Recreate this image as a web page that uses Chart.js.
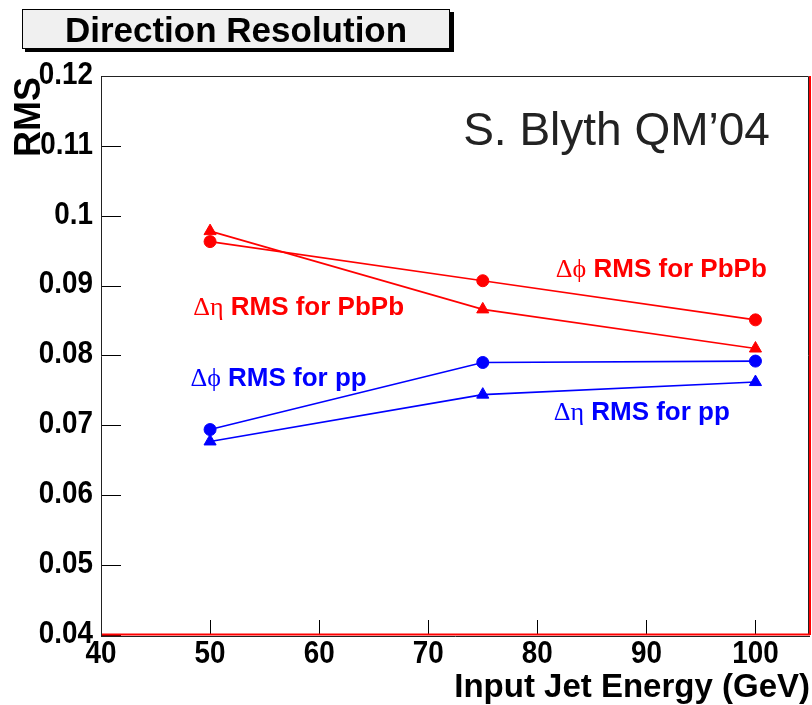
<!DOCTYPE html>
<html>
<head>
<meta charset="utf-8">
<title>Direction Resolution</title>
<script src="https://cdn.jsdelivr.net/npm/chart.js@4/dist/chart.umd.min.js"></script>
<style>
  html, body { margin: 0; padding: 0; background: #fff; }
  canvas { display: block; }
</style>
</head>
<body>
<canvas id="resChart" width="812" height="705"></canvas>
<script>
// ---------------------------------------- data ----------------------------------------
const energies = [50, 75, 100];               // input jet energy (GeV)
const dphiPbPb = [0.0963, 0.0907, 0.0851];
const detaPbPb = [0.0978, 0.0866, 0.0810];
const dphiPP = [0.0694, 0.0790, 0.0792];
const detaPP = [0.0677, 0.0744, 0.0762];

const xTicks = [40, 50, 60, 70, 80, 90, 100];
const yTicks = [0.04, 0.05, 0.06, 0.07, 0.08, 0.09, 0.1, 0.11, 0.12];

const RED = '#ff0000';
const BLUE = '#0000ff';
const SANS = '"Liberation Sans", Arial, Helvetica, sans-serif';
const SERIF = '"Liberation Serif", "DejaVu Serif", serif';

// text labels next to the curves, anchored in data coordinates
const curveLabels = [
    { greek: '\u0394\u03d5', text: ' RMS for PbPb', x: 81.7, y: 0.0912, color: RED },
    { greek: '\u0394\u03b7', text: ' RMS for PbPb', x: 48.45, y: 0.0858, color: RED },
    { greek: '\u0394\u03d5', text: ' RMS for pp', x: 48.2, y: 0.0756, color: BLUE },
    { greek: '\u0394\u03b7', text: ' RMS for pp', x: 81.5, y: 0.0708, color: BLUE }
];

function series(values) {
    return energies.map((e, i) => ({ x: e, y: values[i] }));
}

function makeSet(label, values, color, style) {
    return {
        label: label,
        data: series(values),
        borderColor: color,
        backgroundColor: color,
        borderWidth: 1.6,
        pointStyle: style,
        pointRadius: style === 'triangle' ? 7 : 6,
        pointBorderWidth: 1,
        tension: 0
    };
}

// condensed bold text for the axis numbers
function squeezedText(ctx, str, x, y, align, baseline) {
    const sx = 0.87;
    ctx.save();
    ctx.translate(x, y);
    ctx.scale(sx, 1);
    ctx.font = 'bold 32px ' + SANS;
    ctx.textAlign = align;
    ctx.textBaseline = baseline;
    ctx.fillText(str, 0, 0);
    ctx.restore();
}

// ------------------------------ frame, ticks and texts --------------------------------
const rootStyle = {
    id: 'rootStyle',
    afterDatasetsDraw(chart) {
        const ctx = chart.ctx;
        const a = chart.chartArea;
        const xs = chart.scales.x;
        const ys = chart.scales.y;
        ctx.save();

        // tick marks pointing into the frame
        ctx.strokeStyle = '#000';
        ctx.lineWidth = 1;
        ctx.beginPath();
        yTicks.forEach(v => {
            const py = Math.round(ys.getPixelForValue(v)) + 0.5;
            ctx.moveTo(a.left, py);
            ctx.lineTo(a.left + 20, py);
        });
        xTicks.forEach(v => {
            const px = Math.round(xs.getPixelForValue(v)) + 0.5;
            ctx.moveTo(px, a.bottom);
            ctx.lineTo(px, a.bottom - 15);
        });
        ctx.stroke();

        // tick labels
        ctx.fillStyle = '#000';
        yTicks.forEach(v => {
            squeezedText(ctx, String(+v.toFixed(2)), a.left - 8, ys.getPixelForValue(v) - 1, 'right', 'middle');
        });
        xTicks.forEach(v => {
            squeezedText(ctx, String(v), xs.getPixelForValue(v), a.bottom + 28, 'center', 'alphabetic');
        });

        // frame: dark top/left, red bottom/right
        ctx.strokeStyle = '#222';
        ctx.beginPath();
        ctx.moveTo(a.left + 0.5, a.bottom + 1);
        ctx.lineTo(a.left + 0.5, a.top + 0.5);
        ctx.lineTo(a.right - 1.5, a.top + 0.5);
        ctx.lineTo(a.right - 1.5, a.bottom);
        ctx.moveTo(a.left, a.bottom + 1.5);
        ctx.lineTo(a.right, a.bottom + 1.5);
        ctx.stroke();
        ctx.strokeStyle = RED;
        ctx.lineWidth = 2;
        ctx.beginPath();
        ctx.moveTo(a.left + 1, a.bottom - 0.5);
        ctx.lineTo(a.right, a.bottom - 0.5);
        ctx.moveTo(a.right, a.bottom);
        ctx.lineTo(a.right, a.top);
        ctx.stroke();

        // curve labels: greek part in serif, rest in bold sans
        ctx.textBaseline = 'alphabetic';
        ctx.textAlign = 'left';
        curveLabels.forEach(l => {
            const px = xs.getPixelForValue(l.x);
            const py = ys.getPixelForValue(l.y);
            ctx.fillStyle = l.color;
            ctx.font = '26px ' + SERIF;
            ctx.fillText(l.greek, px, py);
            const w = ctx.measureText(l.greek).width;
            ctx.font = 'bold 26px ' + SANS;
            ctx.fillText(l.text, px + w, py);
        });

        // conference tag
        ctx.fillStyle = '#222';
        ctx.font = '46px ' + SANS;
        ctx.fillText('S. Blyth QM\u201904', xs.getPixelForValue(73.2), ys.getPixelForValue(0.1101));

        ctx.restore();
    },
    afterDraw(chart) {
        const ctx = chart.ctx;
        ctx.save();

        // title box with drop shadow
        ctx.fillStyle = '#000';
        ctx.fillRect(25, 12, 429, 40);
        ctx.fillStyle = '#f0f0f0';
        ctx.fillRect(22, 9, 428, 40);
        ctx.strokeStyle = '#000';
        ctx.lineWidth = 1;
        ctx.strokeRect(22.5, 9.5, 427, 39);
        ctx.fillStyle = '#000';
        ctx.font = 'bold 35px ' + SANS;
        ctx.textAlign = 'center';
        ctx.textBaseline = 'alphabetic';
        ctx.fillText('Direction Resolution', 236, 42);

        // axis titles
        ctx.font = 'bold 33px ' + SANS;
        ctx.textAlign = 'right';
        ctx.fillText('Input Jet Energy (GeV)', 810, 697);

        ctx.translate(40, 77);
        ctx.rotate(-Math.PI / 2);
        ctx.font = 'bold 36px ' + SANS;
        ctx.fillText('RMS', 0, 0);

        ctx.restore();
    }
};

// ----------------------------------------- chart -----------------------------------------
new Chart(document.getElementById('resChart'), {
    type: 'line',
    data: {
        datasets: [
            makeSet('dphi PbPb', dphiPbPb, RED, 'circle'),
            makeSet('deta PbPb', detaPbPb, RED, 'triangle'),
            makeSet('dphi pp', dphiPP, BLUE, 'circle'),
            makeSet('deta pp', detaPP, BLUE, 'triangle')
        ]
    },
    options: {
        responsive: false,
        animation: false,
        layout: {
            autoPadding: false,
            padding: { top: 76, right: 2, left: 0, bottom: 0 }
        },
        plugins: {
            legend: { display: false },
            tooltip: { enabled: false }
        },
        scales: {
            x: {
                type: 'linear',
                min: 40,
                max: 105,
                grid: { display: false, drawTicks: false },
                border: { display: false },
                ticks: { display: false },
                afterBuildTicks: s => { s.ticks = xTicks.map(v => ({ value: v })); },
                afterFit: s => {
                    s.height = 70;
                    s.paddingLeft = 0;
                    s.paddingRight = 0;
                }
            },
            y: {
                type: 'linear',
                min: 0.04,
                max: 0.12,
                grid: { display: false, drawTicks: false },
                border: { display: false },
                ticks: { display: false },
                afterBuildTicks: s => { s.ticks = yTicks.map(v => ({ value: v })); },
                afterFit: s => {
                    s.width = 101;
                    s.paddingTop = 0;
                    s.paddingBottom = 0;
                }
            }
        }
    },
    plugins: [rootStyle]
});
</script>
</body>
</html>
